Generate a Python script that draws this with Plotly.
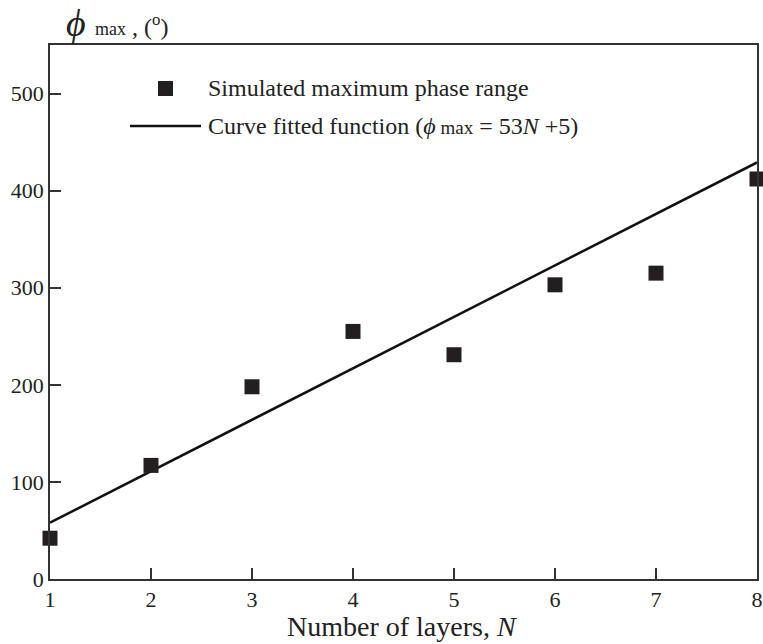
import plotly.graph_objects as go

layers = [1, 2, 3, 4, 5, 6, 7, 8]
phase_range = [42, 117, 198, 255, 231, 303, 315, 412]
fit_x = [1, 8]
fit_slope = 53
fit_intercept = 5
fit_y = [fit_slope * n + fit_intercept for n in fit_x]

x_ticks = [1, 2, 3, 4, 5, 6, 7, 8]
y_ticks = [0, 100, 200, 300, 400, 500]

FONT = "Liberation Serif, Times New Roman, serif"
W, H = 763, 644
ML, MR, MT, MB = 50, 6, 45, 65
PW, PH = W - ML - MR, H - MT - MB

def px(x):
    return (x - ML) / PW

def py(y):
    return 1 - (y - MT) / PH

fig = go.Figure()
fig.add_trace(go.Scatter(x=fit_x, y=fit_y, mode="lines",
                         line=dict(color="#111111", width=2.5),
                         showlegend=False, cliponaxis=False))
fig.add_trace(go.Scatter(x=layers, y=phase_range, mode="markers",
                         marker=dict(symbol="square", size=15, color="#231f20"),
                         showlegend=False, cliponaxis=False))

axis_common = dict(showgrid=False, zeroline=False, showline=True, linecolor="#333333",
                   linewidth=1.5, mirror=True, ticks="inside", ticklen=11,
                   tickcolor="#333333", tickwidth=1.5, automargin=False,
                   tickfont=dict(family=FONT, size=22, color="#222222"))

fig.update_xaxes(range=[1, 8], tickvals=x_ticks, **axis_common)
fig.update_yaxes(range=[0, 550], tickvals=y_ticks, **axis_common)

shapes = [
    dict(type="rect", xref="paper", yref="paper",
         x0=px(158), x1=px(173), y0=py(81), y1=py(96),
         fillcolor="#231f20", line=dict(width=0)),
    dict(type="line", xref="paper", yref="paper",
         x0=px(130), x1=px(201), y0=py(126), y1=py(126),
         line=dict(color="#111111", width=2.5)),
]

annotations = [
    dict(text="Simulated maximum phase range", xref="paper", yref="paper",
         x=px(206), y=py(88), xanchor="left", yanchor="middle", showarrow=False,
         font=dict(family=FONT, size=24, color="#222222")),
    dict(text="Curve fitted function (<i>ϕ</i><span style='font-size:19px'> max</span> = 53<i>N</i> +5)",
         xref="paper", yref="paper",
         x=px(206), y=py(126), xanchor="left", yanchor="middle", showarrow=False,
         font=dict(family=FONT, size=24, color="#222222")),
    dict(text="<i>ϕ</i>", xref="paper", yref="paper",
         x=px(64), y=py(23), xanchor="left", yanchor="middle", showarrow=False,
         font=dict(family=FONT, size=38, color="#222222")),
    dict(text="<span style='font-size:18px'>max</span> , (<sup>o</sup>)", xref="paper", yref="paper",
         x=px(93), y=py(25), xanchor="left", yanchor="middle", showarrow=False,
         font=dict(family=FONT, size=24, color="#222222")),
    dict(text="Number of layers, <i>N</i>", xref="paper", yref="paper",
         x=px(402), y=py(626), xanchor="center", yanchor="middle", showarrow=False,
         font=dict(family=FONT, size=28, color="#222222")),
]

fig.update_layout(width=W, height=H, margin=dict(l=ML, r=MR, t=MT, b=MB),
                  paper_bgcolor="white", plot_bgcolor="white",
                  shapes=shapes, annotations=annotations, showlegend=False)

fig.write_html("out.html")
